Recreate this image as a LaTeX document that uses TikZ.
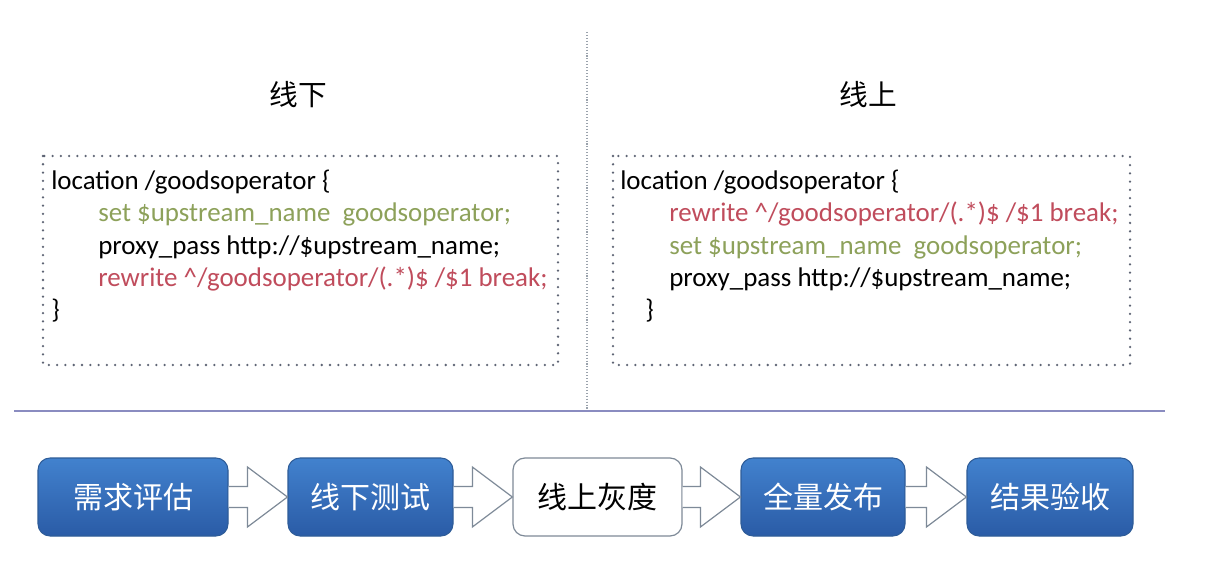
\documentclass[tikz,border=0pt]{standalone}
\usepackage{fontspec}
\setmainfont{Carlito}
\newfontfamily\cjk{Noto Sans CJK SC}
\usetikzlibrary{calc}
\definecolor{codegreen}{HTML}{8DA15A}
\definecolor{codered}{HTML}{C04C5C}
\definecolor{dotgray}{HTML}{5E6474}
\definecolor{sepgray}{HTML}{9AA2AC}
\definecolor{rulecol}{HTML}{8A8CC0}
\definecolor{boxtop}{HTML}{4282CE}
\definecolor{boxbot}{HTML}{2A5BA6}
\definecolor{boxedge}{HTML}{2E5C98}
\definecolor{arrowedge}{HTML}{7E8A98}
\tikzset{
  codeline/.style={anchor=base west, inner sep=0pt, font=\fontsize{20.2}{24}\selectfont},
  titletext/.style={font=\cjk\fontsize{21.5}{24}\selectfont, inner sep=0pt},
  dotbox/.style={draw=dotgray, line width=1.9pt, line cap=round, dash pattern=on 0pt off 6.2pt},
  stepblue/.style={rounded corners=9pt, draw=boxedge, line width=0.8pt, top color=boxtop, bottom color=boxbot,
     text=white, font=\cjk\fontsize{22.5}{24}\selectfont, inner sep=0pt},
  stepwhite/.style={rounded corners=9pt, draw=arrowedge, line width=0.9pt, fill=white,
     text=black, font=\cjk\fontsize{22.5}{24}\selectfont, inner sep=0pt},
  blockarrow/.style={draw=arrowedge, line width=0.9pt, fill=white, line join=miter}
}
\newcommand{\blockarr}[2]{%
  \draw[blockarrow] ($(#1.east)+(0,-10.5)$) -- ($(#2.west)+(-40,-10.5)$) -- ($(#2.west)+(-40,-30)$)
    -- (#2.west) -- ($(#2.west)+(-40,30)$) -- ($(#2.west)+(-40,10.5)$) -- ($(#1.east)+(0,10.5)$);}
\begin{document}
\begin{tikzpicture}[x=0.75pt,y=-0.75pt]
\useasboundingbox[fill=white] (0,0) rectangle (1216,580);
% separators
\coordinate (vtop) at (587,32);
\coordinate (vbot) at (587,409);
\draw[sepgray, line width=0.8pt, dash pattern=on 0.8pt off 1.4pt] (vtop) -- (vbot);
\coordinate (hl) at (14,411);
\coordinate (hr) at (1165,411);
\draw[rulecol, line width=2.1pt] (hl) -- (hr);
% titles
\node[titletext] (t1) at (298,95) {线下};
\node[titletext] (t2) at (868,95) {线上};
% dotted boxes
\draw[dotbox] (43,156) rectangle (558,365);
\draw[dotbox] (613,156) rectangle (1130,365);
% left code
\node[codeline] (l1) at (51,190) {location /goodsoperator \{};
\node[codeline, text=codegreen] (l2) at (98,222) {set \$upstream\_name\ \ goodsoperator;};
\node[codeline] (l3) at (98,254.5) {proxy\_pass http://\$upstream\_name;};
\node[codeline, text=codered] (l4) at (98,287) {rewrite \textasciicircum/goodsoperator/(.*)\$ /\$1 break;};
\node[codeline] (l5) at (51,319) {\}};
% right code
\node[codeline] (r1) at (620,190) {location /goodsoperator \{};
\node[codeline, text=codered] (r2) at (669,222) {rewrite \textasciicircum/goodsoperator/(.*)\$ /\$1 break;};
\node[codeline, text=codegreen] (r3) at (669,254.5) {set \$upstream\_name\ \ goodsoperator;};
\node[codeline] (r4) at (669,287) {proxy\_pass http://\$upstream\_name;};
\node[codeline] (r5) at (645,319) {\}};
% process steps
\node[stepblue, minimum width=142.5pt, minimum height=58.5pt] (b1) at (133,497) {需求评估};
\node[stepblue, minimum width=123.75pt, minimum height=58.5pt] (b2) at (370.5,497) {线下测试};
\node[stepwhite, minimum width=126.75pt, minimum height=58.5pt] (b3) at (597.5,497) {线上灰度};
\node[stepblue, minimum width=123pt, minimum height=58.5pt] (b4) at (823,497) {全量发布};
\node[stepblue, minimum width=124.5pt, minimum height=58.5pt] (b5) at (1050,497) {结果验收};
\blockarr{b1}{b2}
\blockarr{b2}{b3}
\blockarr{b3}{b4}
\blockarr{b4}{b5}
\end{tikzpicture}
\end{document}
